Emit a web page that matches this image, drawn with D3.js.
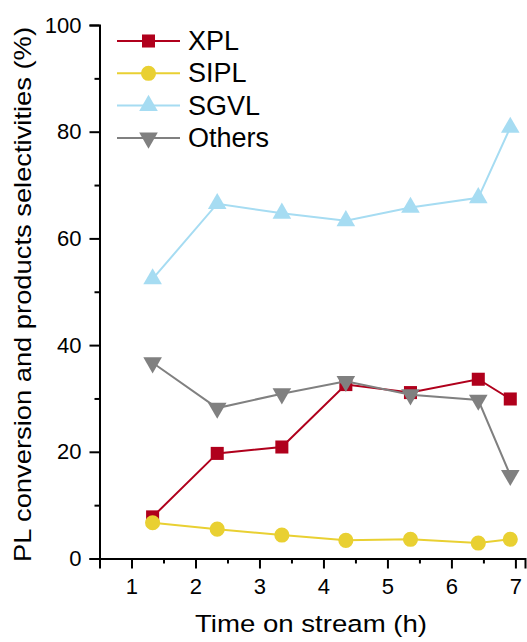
<!DOCTYPE html>
<html>
<head>
<meta charset="utf-8">
<script src="https://cdn.jsdelivr.net/npm/d3@7"></script>
<style>
  html, body { margin: 0; padding: 0; background: #fff; }
  svg { display: block; font-family: Arial, "Liberation Sans", sans-serif; }
</style>
</head>
<body>
<svg id="chart" width="527" height="642"></svg>
<script>
// Time on stream (h) for each sample
const hours = [1.33, 2.34, 3.35, 4.35, 5.36, 6.42, 6.92];

// Selectivities (%) per product group
const xpl    = [7.8, 19.7, 20.9, 32.6, 31.1, 33.6, 29.9];
const sipl   = [6.7, 5.5, 4.4, 3.4, 3.6, 2.9, 3.6];
const sgvl   = [52.4, 66.5, 64.7, 63.3, 65.8, 67.6, 80.8];
const others = [36.7, 28.2, 30.9, 33.2, 30.7, 29.7, 15.6];

const seriesNames = ["XPL", "SIPL", "SGVL", "Others"];
const seriesValues = [xpl, sipl, sgvl, others];
const seriesColors = ["#B0001C", "#E9D032", "#A6DCF2", "#808080"];
const seriesSymbols = [d3.symbolSquare, d3.symbolCircle, d3.symbolTriangle, d3.symbolTriangle];
const seriesSymbolSize = [170, 180, 150, 150];
const seriesSymbolRotate = [0, 0, 0, 180];

const xMajorTicks = [1, 2, 3, 4, 5, 6, 7];
const xMinorTicks = [0.5, 1.5, 2.5, 3.5, 4.5, 5.5, 6.5];
const yMajorTicks = [0, 20, 40, 60, 80, 100];
const yMinorTicks = [10, 30, 50, 70, 90];

const svg = d3.select("#chart");

const x = d3.scaleLinear().domain([0.5, 7.15]).range([99.5, 525]);
const y = d3.scaleLinear().domain([0, 100]).range([558.5, 25]);

// Axes
const axisG = svg.append("g");

const xAxis = axisG.append("g")
  .attr("transform", `translate(0,${y(0)})`)
  .call(d3.axisBottom(x).tickValues(xMajorTicks).tickSize(10).tickPadding(9.5).tickFormat(d3.format("d")));
const xMinor = axisG.append("g")
  .attr("transform", `translate(0,${y(0)})`)
  .call(d3.axisBottom(x).tickValues(xMinorTicks).tickSize(5).tickFormat(""));

const yAxis = axisG.append("g")
  .attr("transform", `translate(${x(0.5)},0)`)
  .call(d3.axisLeft(y).tickValues(yMajorTicks).tickSize(10).tickPadding(8).tickFormat(d3.format("d")));
const yMinor = axisG.append("g")
  .attr("transform", `translate(${x(0.5)},0)`)
  .call(d3.axisLeft(y).tickValues(yMinorTicks).tickSize(5).tickFormat(""));

axisG.selectAll(".domain").attr("stroke", "#000").attr("stroke-width", 2);
axisG.selectAll(".tick line").attr("stroke", "#000").attr("stroke-width", 2);
axisG.selectAll(".tick text").attr("fill", "#000").style("font-size", "22px").style("font-family", "Arial, 'Liberation Sans', sans-serif");
xMinor.select(".domain").remove();
yMinor.select(".domain").remove();

// Axis titles
svg.append("text")
  .attr("x", 195)
  .attr("y", 631.5)
  .attr("textLength", 232)
  .attr("lengthAdjust", "spacingAndGlyphs")
  .style("font-size", "24.5px")
  .text("Time on stream (h)");

svg.append("text")
  .attr("transform", "translate(31,562) rotate(-90)")
  .attr("textLength", 535)
  .attr("lengthAdjust", "spacingAndGlyphs")
  .style("font-size", "24.5px")
  .text("PL conversion and products selectivities (%)");

// Series lines and markers
const line = d3.line().x((d, i) => x(hours[i])).y(d => y(d));

seriesValues.forEach((vals, s) => {
  const g = svg.append("g");
  g.append("path")
    .datum(vals)
    .attr("d", line)
    .attr("fill", "none")
    .attr("stroke", seriesColors[s])
    .attr("stroke-width", 2);
  g.selectAll("path.mark")
    .data(vals)
    .join("path")
    .attr("class", "mark")
    .attr("d", d3.symbol().type(seriesSymbols[s]).size(seriesSymbolSize[s]))
    .attr("transform", (d, i) => `translate(${x(hours[i])},${y(d)}) rotate(${seriesSymbolRotate[s]})`)
    .attr("fill", seriesColors[s]);
});

// Legend
const legend = svg.append("g");
seriesNames.forEach((name, s) => {
  const ly = 41 + s * 32.3;
  const row = legend.append("g");
  row.append("line")
    .attr("x1", 117).attr("x2", 180)
    .attr("y1", ly).attr("y2", ly)
    .attr("stroke", seriesColors[s]).attr("stroke-width", 2);
  row.append("path")
    .attr("d", d3.symbol().type(seriesSymbols[s]).size(seriesSymbolSize[s]))
    .attr("transform", `translate(148.5,${ly}) rotate(${seriesSymbolRotate[s]})`)
    .attr("fill", seriesColors[s]);
  row.append("text")
    .attr("x", 188)
    .attr("y", ly + 9)
    .style("font-size", "27px")
    .text(name);
});
</script>
</body>
</html>
